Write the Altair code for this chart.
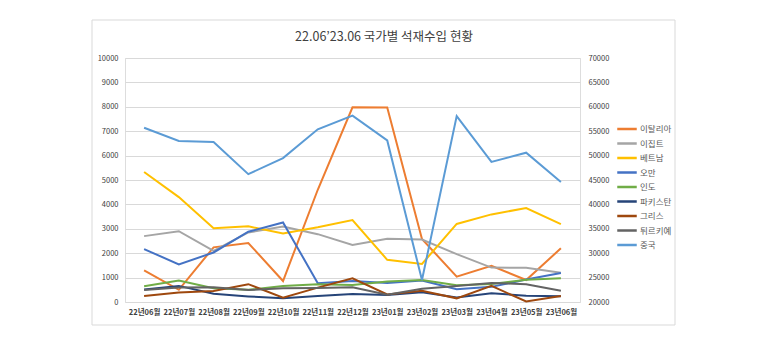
import altair as alt
import pandas as pd

months = ["22년06월", "22년07월", "22년08월", "22년09월", "22년10월", "22년11월", "22년12월",
          "23년01월", "23년02월", "23년03월", "23년04월", "23년05월", "23년06월"]

countries = ["이탈리아", "이집트", "베트남", "오만", "인도", "파키스탄", "그리스", "튀르키예", "중국"]
colors = ["#ED7D31", "#A5A5A5", "#FFC000", "#4472C4", "#70AD47", "#264478", "#9E480E", "#636363", "#5B9BD5"]

italy = [1300, 500, 2240, 2420, 860, 4600, 7980, 7970, 2580, 1040, 1480, 900, 2200]
egypt = [2700, 2900, 2100, 2850, 3090, 2780, 2340, 2590, 2560, 1960, 1410, 1400, 1200]
vietnam = [5330, 4300, 3020, 3100, 2810, 3060, 3360, 1730, 1560, 3200, 3590, 3850, 3190]
oman = [2170, 1540, 2030, 2880, 3260, 770, 860, 780, 880, 520, 620, 920, 1190]
india = [650, 880, 560, 500, 660, 730, 700, 840, 900, 690, 740, 910, 970]
pakistan = [510, 660, 340, 230, 150, 250, 330, 290, 400, 180, 360, 260, 240]
greece = [250, 390, 450, 730, 180, 590, 970, 310, 460, 150, 660, 20, 250]
turkey = [490, 590, 600, 490, 560, 570, 600, 300, 540, 660, 780, 730, 460]
china = [55700, 53000, 52800, 46200, 49500, 55400, 58200, 53100, 24500, 58100, 48700, 50600, 44600]

title_text = "22.06’23.06 국가별 석재수입 현황"

left_series = [italy, egypt, vietnam, oman, india, pakistan, greece, turkey]

rows = []
for name, vals in zip(countries[:8], left_series):
    for m, v in zip(months, vals):
        rows.append({"month": m, "country": name, "value": v})
left_df = pd.DataFrame(rows)
right_df = pd.DataFrame({"month": months, "country": ["중국"] * len(months), "value": china})

FONT = "Noto Sans CJK KR"
LABEL_COLOR = "#595959"

x_enc = alt.X("month:N", sort=months, title=None,
              scale=alt.Scale(type="point", padding=0.55),
              axis=alt.Axis(labelAngle=0, ticks=False, domain=False, labelFontSize=7.5,
                            labelColor="#404040", labelFont=FONT, labelPadding=6,
                            labelFontWeight="bold"))

color_enc = alt.Color("country:N", title=None,
                      scale=alt.Scale(domain=countries, range=colors),
                      legend=alt.Legend(orient="none", legendX=491, legendY=66,
                                        symbolType="stroke", symbolSize=380, symbolStrokeWidth=2.5,
                                        labelFontSize=8.5, labelColor=LABEL_COLOR, labelFont=FONT,
                                        clipHeight=10, rowPadding=4.5, labelOffset=2))

left = alt.Chart(left_df).mark_line(strokeWidth=2).encode(
    x=x_enc,
    y=alt.Y("value:Q", title=None,
            scale=alt.Scale(domain=[0, 10000], nice=False),
            axis=alt.Axis(values=list(range(0, 10001, 1000)), format="d", ticks=False, domain=False,
                          labelFontSize=7.5, labelColor="#404040", labelFont=FONT,
                          labelPadding=7, gridColor="#D9D9D9", gridWidth=1.2)),
    color=color_enc,
)

right = alt.Chart(right_df).mark_line(strokeWidth=2).encode(
    x=x_enc,
    y=alt.Y("value:Q", title=None,
            scale=alt.Scale(domain=[20000, 70000], nice=False),
            axis=alt.Axis(orient="right", values=list(range(20000, 70001, 5000)), format="d",
                          ticks=False, domain=False, grid=False, labelFontSize=7.5,
                          labelColor="#404040", labelFont=FONT, labelPadding=8)),
    color=color_enc,
)

border = alt.Chart(alt.Data(values=[{}])).mark_rect(
    fillOpacity=0, stroke="#D9D9D9", strokeWidth=1
).encode(x=alt.value(-33), x2=alt.value(550), y=alt.value(-38), y2=alt.value(267))

title = alt.Chart(alt.Data(values=[{}])).mark_text(
    font=FONT, fontSize=12.5, color="#404040", align="center", baseline="middle"
).encode(x=alt.value(259), y=alt.value(-21), text=alt.value(title_text))

chart = alt.layer(border, title, left, right).resolve_scale(y="independent").properties(
    width=455, height=244,
    autosize=alt.AutoSizeParams(type="none"),
    padding={"left": 117, "top": 50, "right": 170, "bottom": 40},
).configure_view(stroke="#9DC3E6", strokeWidth=1.2).configure(background="white")

chart.save("out.html", embed_options={"renderer": "svg", "actions": False})
